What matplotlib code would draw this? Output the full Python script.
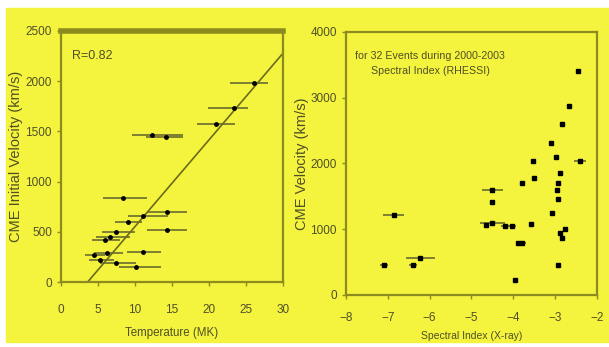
import matplotlib.pyplot as plt
import matplotlib.patches as mpatches

plt.rcParams['font.family'] = ['Liberation Sans Narrow', 'Liberation Sans', 'DejaVu Sans']

# left panel: temperature vs CME initial velocity, with horizontal error bars
temp = [26.1, 23.3, 20.9, 12.3, 14.2, 8.4, 14.3, 11.1, 9.1, 14.3, 7.5, 6.6,
        5.9, 11.1, 6.2, 5.3, 7.5, 10.2, 4.4]
temp_lo = [22.8, 19.9, 18.4, 9.6, 11.5, 5.7, 11.6, 9.0, 7.3, 11.6, 5.5, 4.8,
           4.2, 8.9, 4.5, 3.8, 5.3, 7.9, 3.2]
temp_hi = [27.9, 25.3, 23.5, 16.5, 16.5, 11.6, 17.0, 14.4, 11.0, 17.0, 10.0, 9.3,
           8.0, 13.5, 8.4, 7.1, 10.2, 13.5, 5.9]
vel = [1980, 1730, 1570, 1460, 1440, 835, 700, 655, 600, 520, 500, 450,
       420, 300, 290, 220, 190, 150, 270]
fit_x = [3.6, 30]
fit_y = [0, 2280]

# right panel: spectral index vs CME speed
spec = [-2.44, -2.67, -2.83, -3.10, -2.97, -2.40, -3.52, -3.50, -3.80, -2.89,
        -2.92, -4.50, -4.50, -2.92, -3.06, -4.50, -4.03, -3.58, -2.75, -2.87,
        -2.83, -3.80, -2.92, -3.95, -6.86, -7.09, -6.40, -6.22, -4.65, -4.19,
        -3.88, -2.95]
spec_err = [0, 0, 0, 0, 0, 0.15, 0, 0, 0, 0,
            0, 0.25, 0, 0, 0, 0.3, 0.1, 0, 0, 0,
            0, 0.1, 0, 0, 0.25, 0.1, 0.1, 0.35, 0, 0.1,
            0, 0]
speed = [3400, 2870, 2600, 2310, 2100, 2040, 2030, 1775, 1700, 1850,
         1700, 1600, 1420, 1460, 1240, 1090, 1050, 1080, 1010, 940,
         860, 790, 460, 230, 1220, 460, 450, 560, 1070, 1050,
         790, 1600]

olive = '#8c8c1e'
txt = '#4f4f28'

fig = plt.figure(figsize=(6.09, 3.47), dpi=100)
fig.patch.set_facecolor('white')
bg = fig.add_axes([0, 0, 1, 1], zorder=-10)
bg.axis('off')
bg.add_patch(mpatches.Rectangle((6 / 609, 5 / 347), 603 / 609, 334 / 347,
                                transform=bg.transAxes, color='#f4f43e'))

ax1 = fig.add_axes([0.100, 0.187, 0.365, 0.724])
ax2 = fig.add_axes([0.568, 0.150, 0.412, 0.758])

for ax in (ax1, ax2):
    ax.set_facecolor('none')
    for s in ax.spines.values():
        s.set_color(olive)
        s.set_linewidth(1.6)
    ax.tick_params(colors=olive, labelcolor=txt, labelsize=8.5, length=3,
                   width=1, direction='out')

ax1.spines['top'].set_linewidth(4)
ax1.tick_params(axis='x', pad=13)
ax2.tick_params(axis='x', pad=9)

xerr = [[t - lo for t, lo in zip(temp, temp_lo)],
        [hi - t for t, hi in zip(temp, temp_hi)]]
ax1.errorbar(temp, vel, xerr=xerr, fmt='o', ms=2.5, color='black',
             ecolor='#6b6b30', elinewidth=1.2, capsize=0)
ax1.plot(fit_x, fit_y, color='#6b6b1a', lw=1.2)
ax1.set_xlim(0, 30)
ax1.set_ylim(0, 2500)
ax1.set_xticks([0, 5, 10, 15, 20, 25, 30])
ax1.set_yticks([0, 500, 1000, 1500, 2000, 2500])
ax1.set_xlabel('Temperature (MK)', fontsize=8.3, color=txt, labelpad=8)
ax1.set_ylabel('CME Initial Velocity (km/s)', fontsize=10.5, color=txt, labelpad=2)
ax1.text(0.05, 0.90, 'R=0.82', transform=ax1.transAxes, fontsize=9,
         color=txt, va='center')

ax2.errorbar(spec, speed, xerr=spec_err, fmt='s', ms=3, color='black',
             ecolor='#6b6b30', elinewidth=1.2, capsize=0)
ax2.set_xlim(-8, -2)
ax2.set_ylim(0, 4000)
ax2.set_xticks([-8, -7, -6, -5, -4, -3, -2])
ax2.set_yticks([0, 1000, 2000, 3000, 4000])
ax2.set_xlabel('Spectral Index (X-ray)', fontsize=7.5, color=txt, labelpad=5)
ax2.set_ylabel('CME Velocity (km/s)', fontsize=10.5, color=txt, labelpad=1)
ax2.text(0.035, 0.91, 'for 32 Events during 2000-2003', transform=ax2.transAxes,
         fontsize=7.7, color=txt, va='center')
ax2.text(0.10, 0.85, 'Spectral Index (RHESSI)', transform=ax2.transAxes,
         fontsize=7.7, color=txt, va='center')

fig.savefig('out.png', dpi=100)
